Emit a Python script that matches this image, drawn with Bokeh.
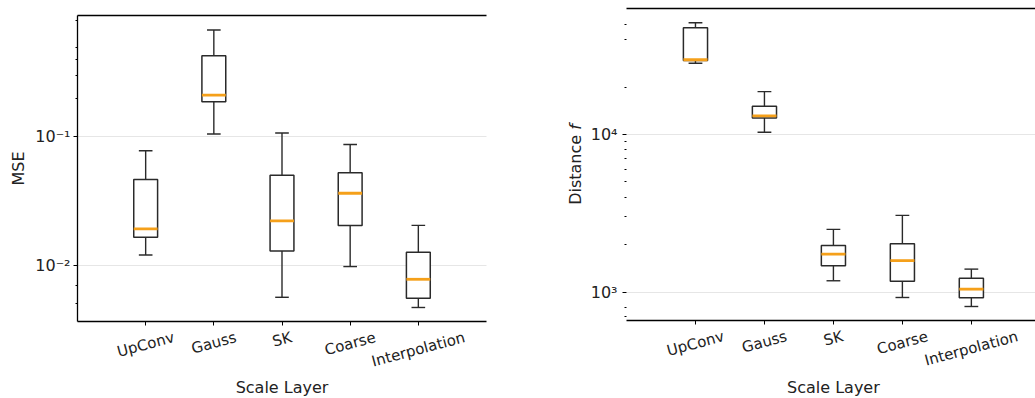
import math

from bokeh.core.properties import value
from bokeh.embed import file_html
from bokeh.layouts import row
from bokeh.models import (ColumnDataSource, FixedTicker, Grid, Label, LabelSet,
                          LinearAxis, LogAxis, Range1d)
from bokeh.plotting import figure
from bokeh.resources import INLINE
from bokeh.transform import dodge

# ---------------------------------------------------------------- data
layers = ["UpConv", "Gauss", "SK", "Coarse", "Interpolation"]
positions = [1, 2, 3, 4, 5]

# MSE per scale layer: whisker low, Q1, median, Q3, whisker high
mse_low = [0.0120, 0.105, 0.00562, 0.00975, 0.00468]
mse_q1 = [0.0165, 0.187, 0.0129, 0.0204, 0.00552]
mse_median = [0.0192, 0.211, 0.0221, 0.0363, 0.00776]
mse_q3 = [0.0465, 0.428, 0.0502, 0.0524, 0.0126]
mse_high = [0.0778, 0.678, 0.107, 0.0871, 0.0204]

# Distance f per scale layer
dist_low = [28300, 10340, 1181, 925, 811]
dist_q1 = [29500, 12750, 1472, 1174, 920]
dist_median = [29800, 13130, 1743, 1585, 1045]
dist_q3 = [47500, 15130, 1980, 2030, 1227]
dist_high = [51200, 18700, 2500, 3070, 1400]

mse_major = [0.01, 0.1]
mse_major_labels = ["10\u207b\u00b2", "10\u207b\u00b9"]
mse_minor = [0.005, 0.007, 0.2, 0.3, 0.4, 0.5, 0.8]

dist_major = [1000, 10000]
dist_major_labels = ["10\u00b3", "10\u2074"]
dist_minor = [700, 800, 2000, 3000, 4000, 5000, 6000, 7000, 8000, 9000,
              20000, 40000, 50000]

# ---------------------------------------------------------------- style
FONT = "DejaVu Sans"
EDGE = "#2a2a2a"
MEDIAN = "#f5a01a"
GRID = "#e6e6e6"
TEXT = "#222222"
BOX_W = 0.35
CAP_W = 0.2
TICK_FONT_PX = 15
LABEL_FONT_PX = 16
ANGLE_DEG = 15
HEIGHT = 398

# approximate DejaVu Sans advance widths (em) for laying out rotated labels
CHAR_EM = {"U": .732, "p": .635, "C": .698, "o": .612, "n": .634, "v": .592,
           "G": .775, "a": .613, "u": .634, "s": .521, "S": .635, "K": .656,
           "r": .411, "e": .615, "I": .295, "t": .392, "l": .278, "i": .278,
           "D": .770, "c": .550, " ": .318}


def text_width(s, px):
    return sum(CHAR_EM.get(ch, 0.6) for ch in s) * px


class Canvas:
    """Maps canvas pixels to data coordinates for a panel whose axes box
    occupies `box` = (left, right, top, bottom) in canvas pixels."""

    def __init__(self, width, box, x_end, y_lo, y_hi):
        self.width = width
        self.left, self.right, self.top, self.bottom = box
        self.x_end, self.y_lo, self.y_hi = x_end, y_lo, y_hi
        self.px_per_x = (self.right - self.left) / x_end
        self.px_per_dec = (self.bottom - self.top) / math.log10(y_hi / y_lo)

    def x(self, px):
        return (px - self.left) / self.px_per_x

    def y(self, py):
        return self.y_lo * 10 ** ((self.bottom - py) / self.px_per_dec)


def box_panel(cv, stats, majors, major_labels, minors, draw_left_spine,
              label_standoff):
    p = figure(width=cv.width, height=HEIGHT, y_axis_type="log",
               x_range=Range1d(cv.x(0), cv.x(cv.width)),
               y_range=Range1d(cv.y(HEIGHT), cv.y(0)),
               x_axis_location=None, y_axis_location=None,
               output_backend="svg", toolbar_location=None, min_border=0)
    p.outline_line_color = None
    p.background_fill_color = "white"
    p.border_fill_color = "white"
    # drop the default full-canvas grids; bounded grid lines are added below
    p.center = [r for r in p.center if not isinstance(r, Grid)]

    # y axis (log) on the left edge of the axes box
    yt = FixedTicker(ticks=majors, minor_ticks=minors)
    yaxis = LogAxis(fixed_location=0, bounds=(cv.y_lo, cv.y_hi), ticker=yt,
                    major_label_overrides=dict(zip(majors, major_labels)),
                    major_label_text_font=FONT,
                    major_label_text_font_size=f"{LABEL_FONT_PX}px",
                    major_label_text_color=TEXT,
                    major_label_standoff=label_standoff,
                    major_tick_in=0, major_tick_out=4,
                    minor_tick_in=0, minor_tick_out=2,
                    major_tick_line_color="black",
                    minor_tick_line_color="black",
                    axis_line_color="black" if draw_left_spine else None,
                    axis_line_width=1.3)
    p.add_layout(yaxis, "left")

    # x axis: tick marks only, names drawn rotated below
    xaxis = LinearAxis(fixed_location=cv.y_lo, bounds=(0, cv.x_end),
                       ticker=FixedTicker(ticks=positions),
                       major_label_overrides={pos: "" for pos in positions},
                       major_tick_in=0, major_tick_out=4,
                       major_tick_line_color="black",
                       minor_tick_line_color=None,
                       axis_line_color="black", axis_line_width=1.3)
    p.add_layout(xaxis, "below")

    # top spine
    top = LinearAxis(fixed_location=cv.y_hi, bounds=(0, cv.x_end),
                     ticker=FixedTicker(ticks=[]),
                     major_tick_line_color=None, minor_tick_line_color=None,
                     axis_line_color="black", axis_line_width=1.3)
    p.add_layout(top, "above")

    # horizontal grid lines at the major ticks, only across the axes box
    try:
        p.add_layout(Grid(dimension=1, ticker=yt,
                          cross_bounds=(0, cv.x_end),
                          grid_line_color=GRID, grid_line_width=1))
    except AttributeError:
        p.segment(x0=0, x1=cv.x_end, y0=majors, y1=majors,
                  line_color=GRID, line_width=1, level="underlay")

    lows, q1s, meds, q3s, highs = stats
    src = ColumnDataSource(dict(x=positions, lo=lows, q1=q1s, med=meds,
                                q3=q3s, hi=highs))
    # whiskers and caps
    p.segment(x0="x", y0="q3", x1="x", y1="hi", source=src,
              line_color=EDGE, line_width=1.4)
    p.segment(x0="x", y0="lo", x1="x", y1="q1", source=src,
              line_color=EDGE, line_width=1.4)
    p.segment(x0=dodge("x", -CAP_W / 2), x1=dodge("x", CAP_W / 2),
              y0="hi", y1="hi", source=src, line_color=EDGE, line_width=1.4)
    p.segment(x0=dodge("x", -CAP_W / 2), x1=dodge("x", CAP_W / 2),
              y0="lo", y1="lo", source=src, line_color=EDGE, line_width=1.4)
    # boxes
    p.vbar(x="x", width=BOX_W, bottom="q1", top="q3", source=src,
           fill_color="white", line_color=EDGE, line_width=1.5)
    # medians
    p.segment(x0=dodge("x", -BOX_W / 2), x1=dodge("x", BOX_W / 2),
              y0="med", y1="med", source=src, line_color=MEDIAN,
              line_width=2.8)

    # rotated category names: tops of the rotated boxes sit on one line
    a = math.radians(ANGLE_DEG)
    h = 1.17 * TICK_FONT_PX
    centre_py = [cv.bottom + 7 +
                 (text_width(n, TICK_FONT_PX) * math.sin(a) +
                  h * math.cos(a)) / 2 for n in layers]
    names = ColumnDataSource(dict(x=positions, name=layers,
                                  y=[cv.y(py) for py in centre_py]))
    p.add_layout(LabelSet(x="x", y="y", text="name", source=names,
                          angle=ANGLE_DEG, angle_units="deg",
                          text_align="center", text_baseline="middle",
                          text_font=value(FONT),
                          text_font_size=f"{TICK_FONT_PX}px",
                          text_color=TEXT))

    # x axis title, centred under the 0..6 axes box
    p.add_layout(Label(x=3, y=cv.y(387), text="Scale Layer",
                       text_align="center", text_baseline="middle",
                       text_font=FONT, text_font_size=f"{LABEL_FONT_PX}px",
                       text_color=TEXT))
    return p


# left panel: MSE
left_cv = Canvas(540, (77, 486, 15, 321), 6.0, 0.00364, 0.88)
left = box_panel(left_cv, (mse_low, mse_q1, mse_median, mse_q3, mse_high),
                 mse_major, mse_major_labels, mse_minor, True, 3)
left.add_layout(Label(x=left_cv.x(18), y=left_cv.y((15 + 321) / 2),
                      text="MSE", angle=90, angle_units="deg",
                      text_align="center", text_baseline="middle",
                      text_font=FONT, text_font_size=f"{LABEL_FONT_PX}px",
                      text_color=TEXT))

# right panel: Distance f (its canvas starts at x = 540 of the page)
right_cv = Canvas(495, (86, 495, 8, 320), 5.93, 661, 63000)
right = box_panel(right_cv, (dist_low, dist_q1, dist_median, dist_q3,
                             dist_high),
                  dist_major, dist_major_labels, dist_minor, False, 5)
# "Distance f" with an italic f, set as two pieces along the rotated baseline
word_w = text_width("Distance ", LABEL_FONT_PX)
f_w = 0.35 * LABEL_FONT_PX
start_py = (8 + 320) / 2 + (word_w + f_w) / 2
ylabel_px = 35
right.add_layout(Label(x=right_cv.x(ylabel_px), y=right_cv.y(start_py),
                       text="Distance", angle=90, angle_units="deg",
                       text_align="left", text_baseline="middle",
                       text_font=FONT, text_font_size=f"{LABEL_FONT_PX}px",
                       text_color=TEXT))
right.add_layout(Label(x=right_cv.x(ylabel_px),
                       y=right_cv.y(start_py - word_w),
                       text="f", angle=90, angle_units="deg",
                       text_align="left", text_baseline="middle",
                       text_font=FONT, text_font_style="italic",
                       text_font_size=f"{LABEL_FONT_PX}px",
                       text_color=TEXT))

page = row(left, right)
open("out.html", "w").write(file_html(page, INLINE))
